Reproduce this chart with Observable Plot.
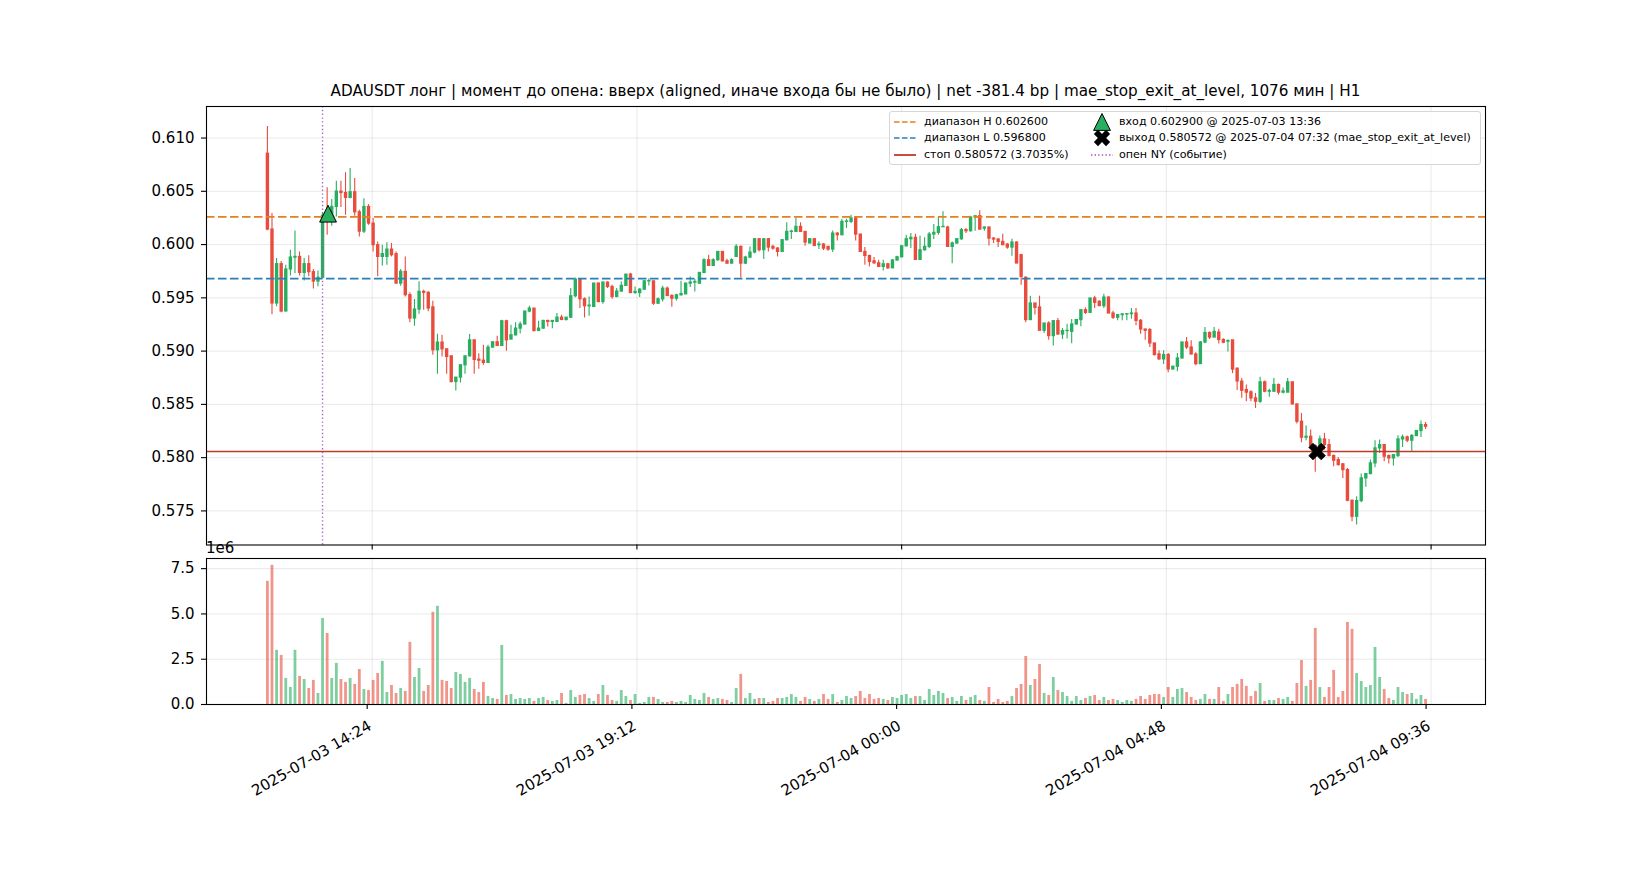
<!DOCTYPE html>
<html>
<head>
<meta charset="utf-8">
<script src="https://cdn.jsdelivr.net/npm/d3@7"></script>
<script src="https://cdn.jsdelivr.net/npm/@observablehq/plot@0.6"></script>
<style>
  html,body{margin:0;padding:0;background:#fff;}
  #chart{position:relative;width:1650px;height:880px;background:#fff;font-family:"DejaVu Sans",sans-serif;color:#000;overflow:hidden;}
  #title{position:absolute;left:206px;width:1279px;top:84px;text-align:center;font-size:15.2px;line-height:15.2px;white-space:nowrap;}
  #pricePanel{position:absolute;left:0;top:0;}
  #volPanel{position:absolute;left:0;top:552px;}
  #legend{position:absolute;left:889px;top:110.5px;width:592px;height:54px;border:1px solid #d6d6d6;border-radius:3px;background:rgba(255,255,255,0.85);font-size:11.1px;box-sizing:border-box;}
  .lg{position:absolute;white-space:nowrap;line-height:12px;height:12px;}
  .sw{position:absolute;}
  #exp{position:absolute;left:206px;top:541px;font-size:15px;line-height:15px;}
</style>
</head>
<body>
<div id="chart">
  <div id="title"></div>
  <div id="pricePanel"></div>
  <div id="volPanel"></div>
  <div id="legend"></div>
  <div id="exp">1e6</div>
</div>
<script>
// ---------------- DATA ----------------
const titleText = "ADAUSDT лонг | момент до опена: вверх (aligned, иначе входа бы не было) | net -381.4 bp | mae_stop_exit_at_level, 1076 мин | H1";
const firstCandle = "2025-07-03 12:30";
const candleMinutes = 5;

const O = [
.60853,.60141,.59447,.59816,.59372,.59766,.59878,.59884,.59734,.59816,
.59741,.59653,.59688,.60270,.60228,.60353,.60497,.60484,.60438,.60491,
.60303,.60122,.60353,.60197,.59994,.59884,.59884,.59953,.59910,.59634,
.59744,.59525,.59306,.59390,.59556,.59547,.59411,.59008,.59080,.59017,
.58951,.58710,.58751,.58867,.58951,.59101,.58920,.58910,.58889,.59033,
.59083,.59048,.59280,.59108,.59148,.59211,.59249,.59371,.59399,.59189,
.59211,.59283,.59274,.59274,.59314,.59292,.59314,.59515,.59671,.59487,
.59421,.59415,.59634,.59461,.59643,.59602,.59508,.59559,.59612,.59718,
.59545,.59545,.59577,.59655,.59655,.59445,.59486,.59586,.59517,.59492,
.59524,.59533,.59633,.59643,.59633,.59734,.59853,.59800,.59853,.59931,
.59843,.59821,.59884,.59978,.59821,.59878,.59925,.60050,.59947,.60050,
.59978,.59962,.59931,.60041,.60119,.60119,.60166,.60119,.60010,.60050,
.59994,.60000,.59978,.59953,.60103,.60088,.60213,.60213,.60245,.60094,
.59931,.59893,.59843,.59824,.59790,.59815,.59777,.59850,.59881,.59984,
.60050,.60063,.59856,.59947,.59978,.60094,.60110,.60163,.60160,.59978,
.60010,.60050,.60135,.60125,.60254,.60266,.60150,.60160,.60056,.60047,
.60025,.60000,.59972,.60019,.59900,.59688,.59291,.59447,.59410,.59191,
.59259,.59141,.59281,.59156,.59188,.59181,.59250,.59291,.59384,.59359,
.59494,.59463,.59422,.59503,.59353,.59313,.59338,.59344,.59347,.59353,
.59284,.59203,.59197,.59072,.58969,.58922,.58963,.58828,.58853,.58931,
.59081,.59034,.58969,.58878,.59081,.59170,.59127,.59174,.59104,.59089,
.59101,.58835,.58713,.58635,.58613,.58556,.58525,.58707,.58619,.58619,
.58682,.58610,.58610,.58707,.58500,.58337,.58187,.58196,.58109,.58087,
.58171,.58118,.58015,.57977,.57937,.57883,.57595,.57445,.57592,.57805,
.57846,.57946,.58087,.58118,.58015,.57993,.58015,.58171,.58190,.58159,
.58203,.58250,.58306];

const H = [
.61109,.60291,.59869,.59841,.59806,.59947,.60128,.59931,.59869,.59894,
.59766,.59753,.60300,.60534,.60422,.60594,.60594,.60675,.60713,.60619,
.60322,.60431,.60375,.60244,.60025,.59994,.60016,.60010,.59931,.59766,
.59884,.59547,.59484,.59650,.59572,.59556,.59468,.59158,.59148,.59017,
.58951,.58751,.58867,.58951,.59155,.59101,.58976,.59054,.59054,.59083,
.59139,.59289,.59289,.59242,.59267,.59274,.59374,.59421,.59399,.59280,
.59289,.59289,.59283,.59352,.59336,.59314,.59587,.59687,.59681,.59500,
.59509,.59634,.59640,.59649,.59649,.59618,.59587,.59649,.59718,.59730,
.59602,.59586,.59661,.59680,.59655,.59499,.59608,.59602,.59530,.59533,
.59655,.59640,.59696,.59671,.59734,.59868,.59900,.59868,.59931,.59931,
.59862,.59868,.60000,.59987,.59890,.59978,.60056,.60056,.60056,.60056,
.59994,.59972,.60047,.60204,.60135,.60245,.60204,.60119,.60056,.60056,
.60025,.60009,.59984,.60128,.60110,.60238,.60238,.60276,.60260,.60094,
.59972,.59900,.59878,.59853,.59853,.59822,.59859,.59890,.59984,.60088,
.60103,.60097,.60078,.60063,.60113,.60188,.60260,.60307,.60172,.60025,
.60056,.60150,.60150,.60266,.60266,.60317,.60166,.60166,.60063,.60056,
.60097,.60009,.60050,.60025,.59909,.59697,.59516,.59447,.59516,.59259,
.59275,.59281,.59306,.59213,.59253,.59297,.59297,.59384,.59406,.59494,
.59516,.59472,.59534,.59509,.59375,.59344,.59353,.59353,.59400,.59400,
.59297,.59203,.59212,.59072,.59003,.59003,.58978,.58859,.58978,.59081,
.59128,.59097,.58984,.59089,.59222,.59180,.59222,.59206,.59117,.59104,
.59101,.58842,.58744,.58682,.58629,.58603,.58754,.58719,.58642,.58744,
.58691,.58654,.58744,.58707,.58500,.58415,.58297,.58259,.58120,.58203,
.58228,.58171,.58024,.58002,.57946,.57899,.57602,.57633,.57846,.57846,
.57977,.58159,.58165,.58118,.58024,.58024,.58206,.58212,.58203,.58218,
.58250,.58344,.58331];

const L = [
.60130,.59341,.59416,.59359,.59369,.59706,.59725,.59706,.59659,.59697,
.59584,.59603,.59680,.60088,.60172,.60259,.60347,.60275,.60431,.60266,
.60072,.60103,.60181,.59931,.59697,.59800,.59806,.59884,.59628,.59609,
.59509,.59266,.59234,.59347,.59384,.59369,.58960,.58782,.58945,.58782,
.58700,.58626,.58701,.58782,.58945,.58782,.58829,.58867,.58889,.59030,
.59048,.59048,.58998,.59108,.59142,.59161,.59249,.59361,.59180,.59189,
.59205,.59227,.59211,.59274,.59292,.59283,.59305,.59500,.59399,.59311,
.59327,.59415,.59455,.59440,.59587,.59487,.59500,.59555,.59612,.59540,
.59533,.59502,.59570,.59611,.59429,.59439,.59461,.59514,.59411,.59470,
.59517,.59530,.59596,.59555,.59627,.59727,.59797,.59800,.59843,.59837,
.59815,.59821,.59878,.59687,.59815,.59868,.59915,.59931,.59859,.59931,
.59947,.59884,.59925,.60034,.60047,.60113,.60113,.59984,.60010,.59987,
.59953,.59944,.59937,.59925,.60034,.60082,.60150,.60198,.60034,.59931,
.59806,.59790,.59815,.59790,.59752,.59768,.59777,.59846,.59875,.59978,
.59962,.59856,.59853,.59937,.59962,.60047,.60088,.60160,.59978,.59821,
.60003,.60041,.60103,.60119,.60125,.60135,.60125,.59987,.60010,.59972,
.59994,.59956,.59890,.59822,.59619,.59266,.59291,.59338,.59191,.59166,
.59103,.59047,.59150,.59109,.59113,.59070,.59244,.59228,.59344,.59359,
.59400,.59419,.59400,.59353,.59297,.59284,.59284,.59284,.59300,.59238,
.59159,.59103,.59034,.58953,.58915,.58875,.58797,.58822,.58806,.58925,
.59016,.58963,.58862,.58878,.59070,.59110,.59127,.59066,.59070,.58991,
.58788,.58630,.58557,.58525,.58525,.58462,.58509,.58610,.58566,.58613,
.58588,.58597,.58610,.58494,.58315,.58140,.58159,.58109,.57862,.58071,
.58071,.58009,.57915,.57921,.57805,.57586,.57398,.57367,.57577,.57721,
.57840,.57905,.58040,.57962,.57940,.57921,.58002,.58096,.58140,.58049,
.58196,.58190,.58265];

const C = [
.60141,.59447,.59816,.59372,.59766,.59878,.59884,.59734,.59816,.59741,
.59653,.59688,.60270,.60250,.60353,.60497,.60484,.60438,.60491,.60303,
.60122,.60353,.60197,.59994,.59884,.59910,.59953,.59900,.59634,.59744,
.59525,.59306,.59390,.59556,.59547,.59400,.59008,.59080,.59017,.58945,
.58710,.58751,.58867,.58951,.59101,.58917,.58910,.58889,.59033,.59083,
.59048,.59280,.59101,.59148,.59211,.59249,.59371,.59399,.59189,.59211,
.59283,.59274,.59283,.59314,.59292,.59314,.59515,.59671,.59487,.59421,
.59427,.59634,.59461,.59643,.59602,.59508,.59559,.59612,.59718,.59545,
.59555,.59577,.59655,.59658,.59445,.59486,.59586,.59517,.59492,.59524,
.59536,.59633,.59643,.59649,.59734,.59853,.59800,.59853,.59931,.59843,
.59821,.59853,.59978,.59821,.59878,.59925,.60050,.59947,.60050,.59972,
.59962,.59931,.60041,.60119,.60122,.60166,.60119,.60019,.60050,.59987,
.60000,.59962,.59953,.60103,.60088,.60213,.60216,.60245,.60094,.59931,
.59893,.59837,.59824,.59790,.59815,.59777,.59850,.59881,.59984,.60050,
.60063,.59856,.59947,.59978,.60094,.60110,.60163,.60166,.59978,.60010,
.60050,.60135,.60125,.60254,.60266,.60141,.60160,.60056,.60047,.60025,
.59994,.59972,.60019,.59822,.59697,.59291,.59447,.59406,.59191,.59259,
.59141,.59281,.59156,.59188,.59190,.59250,.59291,.59384,.59359,.59494,
.59453,.59422,.59503,.59353,.59313,.59338,.59344,.59347,.59353,.59284,
.59203,.59191,.59072,.58963,.58922,.58963,.58828,.58853,.58931,.59081,
.59034,.58969,.58878,.59081,.59170,.59127,.59180,.59104,.59079,.59095,
.58826,.58715,.58628,.58610,.58556,.58525,.58707,.58619,.58625,.58682,
.58610,.58622,.58707,.58500,.58337,.58187,.58196,.58109,.58065,.58171,
.58118,.58015,.57971,.57930,.57883,.57595,.57445,.57592,.57805,.57846,
.57946,.58087,.58118,.58009,.57993,.58024,.58171,.58190,.58159,.58203,
.58250,.58306,.58290];

// volume, millions
const V = [
6.80,7.68,2.99,2.71,1.44,0.94,2.99,1.55,1.38,0.88,
1.33,0.61,4.75,3.92,1.44,2.27,1.38,1.22,1.44,1.11,
1.93,0.83,0.77,1.33,1.71,2.38,0.66,1.05,0.61,0.88,
0.72,3.43,1.49,1.99,0.72,1.05,5.09,5.42,1.33,1.27,
0.88,1.77,1.66,1.22,1.44,0.83,0.66,1.22,0.44,0.33,
0.28,3.26,0.50,0.55,0.28,0.33,0.28,0.33,0.17,0.33,
0.39,0.22,0.17,0.22,0.61,0.06,0.77,0.39,0.50,0.55,
0.33,0.17,0.55,1.05,0.50,0.22,0.17,0.77,0.44,0.22,
0.55,0.06,0.11,0.39,0.39,0.28,0.11,0.11,0.17,0.11,
0.17,0.11,0.50,0.28,0.22,0.61,0.39,0.28,0.33,0.28,
0.22,0.11,0.88,1.66,0.33,0.61,0.28,0.33,0.33,0.11,
0.17,0.33,0.33,0.39,0.55,0.39,0.17,0.39,0.28,0.17,
0.28,0.55,0.28,0.55,0.11,0.22,0.44,0.33,0.44,0.72,
0.33,0.55,0.28,0.33,0.28,0.22,0.39,0.33,0.50,0.55,
0.33,0.44,0.44,0.22,0.83,0.50,0.72,0.61,0.33,0.39,
0.17,0.44,0.22,0.39,0.50,0.22,0.17,0.94,0.11,0.28,
0.11,0.17,0.44,0.88,1.11,2.65,1.05,1.38,2.21,0.61,
0.50,1.49,0.77,0.66,0.44,0.17,0.44,0.22,0.33,0.44,
0.50,0.22,0.39,0.22,0.28,0.22,0.11,0.22,0.17,0.28,
0.44,0.28,0.50,0.55,0.55,0.39,0.94,0.39,0.83,0.88,
0.66,0.39,0.22,0.28,0.55,0.28,0.28,0.94,0.17,0.55,
0.94,1.11,1.38,1.00,0.44,0.72,1.16,0.17,0.22,0.22,
0.33,0.28,0.39,0.17,1.16,2.43,1.00,1.33,4.20,0.94,
0.39,0.94,1.88,0.39,0.72,4.53,4.15,1.71,1.27,0.94,
1.05,3.15,1.49,0.83,0.33,0.22,0.94,0.66,0.55,0.61,
0.28,0.50,0.28];

const tickLabels = ["2025-07-03 14:24","2025-07-03 19:12","2025-07-04 00:00","2025-07-04 04:48","2025-07-04 09:36"];
const priceTicks = [0.575,0.580,0.585,0.590,0.595,0.600,0.605,0.610];
const volumeTicks = [0,2.5,5,7.5];

const rangeHigh = 0.6026;
const rangeLow = 0.5968;
const stopLevel = 0.580572;
const entryTime = "2025-07-03 13:36", entryPrice = 0.6029;
const exitTime = "2025-07-04 07:32", exitPrice = 0.580572;
const nyOpenTime = "2025-07-03 13:30";

const legendRows = [
  ["диапазон H 0.602600", "вход 0.602900 @ 2025-07-03 13:36"],
  ["диапазон L 0.596800", "выход 0.580572 @ 2025-07-04 07:32 (mae_stop_exit_at_level)"],
  ["стоп 0.580572 (3.7035%)", "опен NY (событие)"]
];

// ---------------- STYLE ----------------
const UP = "#27ae60", DOWN = "#e74c3c";
const ORANGE = "#e67e22", BLUE = "#2980b9", STOPRED = "#c0392b", PURPLE = "#9b59b6";
const GRID = {stroke: "#b0b0b0", strokeOpacity: 0.35, strokeWidth: 0.8};

const parse = d3.utcParse("%Y-%m-%d %H:%M");
const t0 = parse(firstCandle);
const candles = O.map((o, i) => ({
  t: d3.utcMinute.offset(t0, i * candleMinutes),
  o, h: H[i], l: L[i], c: C[i], v: V[i],
  col: C[i] >= o ? UP : DOWN
}));
const tickDates = tickLabels.map(parse);
const xDomain = [new Date("2025-07-03T11:23:45Z"), new Date("2025-07-04T10:35:12Z")];

const triUp = {draw(ctx, size) {
  const r = Math.sqrt(size / Math.PI);
  ctx.moveTo(0, -r); ctx.lineTo(r, r); ctx.lineTo(-r, r); ctx.closePath();
}};
const xFilled = {draw(ctx, size) {
  const R = Math.sqrt(size / Math.PI) * Math.SQRT2;
  const a = R * 0.75, w = R * 0.25, c = Math.SQRT1_2;
  const pts = [[-w,-a],[w,-a],[w,-w],[a,-w],[a,w],[w,w],[w,a],[-w,a],[-w,w],[-a,w],[-a,-w],[-w,-w]];
  pts.forEach(([x, y], i) => { const X = (x - y) * c, Y = (x + y) * c; i ? ctx.lineTo(X, Y) : ctx.moveTo(X, Y); });
  ctx.closePath();
}};

const common = {
  width: 1650, marginLeft: 206, marginRight: 165,
  style: {fontFamily: "DejaVu Sans, sans-serif", fontSize: "15px", background: "transparent", color: "black", overflow: "visible"},
  color: {type: "identity"}
};

// ---------------- PRICE PANEL ----------------
const price = Plot.plot({
  ...common,
  height: 552, marginTop: 106, marginBottom: 7.5,
  x: {type: "utc", domain: xDomain},
  y: {domain: [0.5718, 0.61296]},
  marks: [
    Plot.gridX(tickDates, GRID),
    Plot.gridY(priceTicks, GRID),
    Plot.ruleX(candles, {x: "t", y1: d => Math.max(d.h, d.o, d.c), y2: d => Math.min(d.l, d.o, d.c), stroke: "col", strokeWidth: 1.1}),
    Plot.ruleX(candles, {x: "t", y1: d => Math.max(d.o, d.c), y2: d => Math.min(d.o, d.c), stroke: "col", strokeWidth: 3.4, insetTop: -0.6, insetBottom: -0.6}),
    Plot.ruleY([rangeHigh], {y: d => d, stroke: ORANGE, strokeWidth: 1.6, strokeDasharray: "8.5,3.5"}),
    Plot.ruleY([rangeLow], {y: d => d, stroke: BLUE, strokeWidth: 1.6, strokeDasharray: "8.5,3.5"}),
    Plot.ruleY([stopLevel], {y: d => d, stroke: STOPRED, strokeWidth: 1.6}),
    Plot.ruleX([parse(nyOpenTime)], {x: d => d, stroke: PURPLE, strokeWidth: 1.4, strokeDasharray: "1.4,2.4", strokeOpacity: 0.9}),
    Plot.dot([{t: parse(entryTime), p: entryPrice}], {x: "t", y: "p", symbol: triUp, r: 8.4, fill: UP, stroke: "black", strokeWidth: 1}),
    Plot.dot([{t: parse(exitTime), p: exitPrice}], {x: "t", y: "p", symbol: xFilled, r: 8.3, fill: "black", stroke: "black", strokeWidth: 0.8}),
    Plot.axisY(priceTicks, {tickFormat: d3.format(".3f"), tickSize: 5, tickPadding: 7, label: null, stroke: "black", strokeWidth: 1.1}),
    Plot.axisX(tickDates, {tickFormat: () => "", tickSize: 5, label: null, stroke: "black", strokeWidth: 1.1}),
    Plot.frame({stroke: "black", strokeWidth: 1.1})
  ]
});
document.getElementById("pricePanel").append(price);

// ---------------- VOLUME PANEL ----------------
const vol = Plot.plot({
  ...common,
  height: 328, marginTop: 6, marginBottom: 176,
  x: {type: "utc", domain: xDomain},
  y: {domain: [0, 8.06]},
  marks: [
    Plot.gridX(tickDates, GRID),
    Plot.gridY(volumeTicks, GRID),
    Plot.ruleX(candles, {x: "t", y1: 0, y2: "v", stroke: "col", strokeOpacity: 0.6, strokeWidth: 2.8}),
    Plot.axisY(volumeTicks, {tickFormat: d3.format(".1f"), tickSize: 5, tickPadding: 7, label: null, stroke: "black", strokeWidth: 1.1}),
    Plot.axisX(tickDates, {tickFormat: d3.utcFormat("%Y-%m-%d %H:%M"), tickRotate: -30, textAnchor: "end", lineAnchor: "top",
      tickSize: 5, tickPadding: 10, dx: -5, label: null, stroke: "black", strokeWidth: 1.1}),
    Plot.frame({stroke: "black", strokeWidth: 1.1})
  ]
});
document.getElementById("volPanel").append(vol);

// ---------------- TITLE & LEGEND ----------------
document.getElementById("title").textContent = titleText;

const lg = document.getElementById("legend");
const rowTop = [4, 20.5, 37];
const swatches = [
  `<svg class="sw" width="24" height="12" style="left:3px"><line x1="1" y1="6" x2="23" y2="6" stroke="${ORANGE}" stroke-width="1.6" stroke-dasharray="5.5,2.5"/></svg>`,
  `<svg class="sw" width="24" height="12" style="left:3px"><line x1="1" y1="6" x2="23" y2="6" stroke="${BLUE}" stroke-width="1.6" stroke-dasharray="5.5,2.5"/></svg>`,
  `<svg class="sw" width="24" height="12" style="left:3px"><line x1="1" y1="6" x2="23" y2="6" stroke="${STOPRED}" stroke-width="1.8"/></svg>`
];
const markers2 = [
  `<svg class="sw" width="20" height="20" style="left:202px;top:-4px"><path d="M10,1.6 L18.4,18.4 L1.6,18.4 Z" fill="${UP}" stroke="black" stroke-width="1"/></svg>`,
  `<svg class="sw" width="20" height="20" style="left:202px;top:-4px"><g transform="translate(10,10) rotate(45)"><path d="M-2.9,-8.6 L2.9,-8.6 L2.9,-2.9 L8.6,-2.9 L8.6,2.9 L2.9,2.9 L2.9,8.6 L-2.9,8.6 L-2.9,2.9 L-8.6,2.9 L-8.6,-2.9 L-2.9,-2.9 Z" fill="black"/></g></svg>`,
  `<svg class="sw" width="24" height="12" style="left:200px"><line x1="1" y1="6" x2="23" y2="6" stroke="${PURPLE}" stroke-width="1.4" stroke-dasharray="1.4,2.2"/></svg>`
];
legendRows.forEach((row, i) => {
  const div = document.createElement("div");
  div.className = "lg";
  div.style.top = rowTop[i] + "px";
  div.style.left = "0px";
  div.style.width = "590px";
  div.innerHTML = swatches[i] + `<span style="position:absolute;left:34px">${row[0]}</span>` +
    markers2[i] + `<span style="position:absolute;left:229px">${row[1]}</span>`;
  lg.append(div);
});
</script>
</body>
</html>
